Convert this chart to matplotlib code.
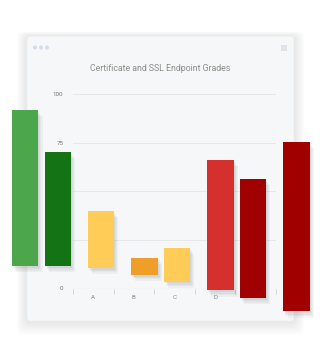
import matplotlib
matplotlib.use("Agg")
import matplotlib.pyplot as plt
import matplotlib.patheffects as pe
from matplotlib.patches import FancyBboxPatch, Circle, Rectangle

plt.rcParams['font.family'] = ['Roboto', 'DejaVu Sans']

# categories on the x axis (fifth one has no visible label)
categories = ['A', 'B', 'C', 'D', '']
y_ticks = [0, 25, 50, 75, 100]

# floating bars: position on the category axis, low and high values
bar_x = [-1.68, -0.87, 0.19, 1.26, 2.06, 3.13, 3.93, 5.01]
bar_low = [11.6, 11.6, 10.6, 7.0, 3.5, -1.0, -4.9, -11.8]
bar_high = [91.9, 70.3, 39.9, 15.9, 21.0, 66.2, 56.4, 75.4]
bar_colors = ['#4ca64c', '#147314', '#ffcd57', '#ef9f29', '#ffcd57',
              '#d5302e', '#a00000', '#a00000']

fig = plt.figure(figsize=(3.2, 3.61), dpi=100)
fig.patch.set_facecolor('white')

# soft shadow under the card
for i in range(8):
    g = (8 - i) * 0.004
    sh = FancyBboxPatch((0.0844 - g, 0.1108 - g * 1.2), 0.834 + g * 2, 0.789 + g * 1.6,
                        boxstyle="round,pad=0,rounding_size=0.02",
                        transform=fig.transFigure, facecolor='black', edgecolor='none',
                        alpha=0.012, zorder=-6)
    fig.patches.append(sh)

card = FancyBboxPatch((0.0844, 0.1108), 0.834, 0.789,
                      boxstyle="round,pad=0,rounding_size=0.012",
                      transform=fig.transFigure, facecolor='#f6f7f9',
                      edgecolor='#eef0f3', linewidth=0.5, zorder=-5)
fig.patches.append(card)

# window dots and icon
for cx in [35, 41, 47]:
    fig.patches.append(Circle((cx / 320, (361 - 47.5) / 361), 1.9 / 320,
                              transform=fig.transFigure, facecolor='#d8d9ea',
                              edgecolor='none', zorder=-4))
fig.patches.append(Rectangle((281 / 320, (361 - 51) / 361), 6 / 320, 6 / 361,
                             transform=fig.transFigure, facecolor='#e2e3e8',
                             edgecolor='none', zorder=-4))

fig.text(160 / 320, (361 - 68.5) / 361, 'Certificate and SSL Endpoint Grades',
         ha='center', va='center', fontsize=6.3, color='#8c8c88')

ax = fig.add_axes([73 / 320, (361 - 288.5) / 361, 203 / 320, 194.2 / 361])
ax.set_zorder(2)
ax.patch.set_alpha(0)
ax.set_xlim(-0.5, 4.5)
ax.set_ylim(0, 100)

for v in y_ticks[1:]:
    ax.axhline(v, color='#e6e7ea', linewidth=0.7, zorder=0)
ax.axhline(0, color='#d6d7db', linewidth=0.8, zorder=0)

for spine in ax.spines.values():
    spine.set_visible(False)

ax.set_yticks(y_ticks)
ax.set_yticklabels([str(v) for v in y_ticks])
ax.tick_params(axis='y', length=0, pad=7, labelsize=4.5, labelcolor='#777777')

ax.set_xticks([i - 0.5 for i in range(len(categories) + 1)], minor=True)
ax.set_xticks(range(len(categories)))
ax.set_xticklabels(categories)
ax.tick_params(axis='x', which='major', length=0, pad=5, labelsize=4.5, labelcolor='#888888')
ax.tick_params(axis='x', which='minor', length=3.5, width=0.7, color='#d6d7db')

heights = [h - l for h, l in zip(bar_high, bar_low)]
bars = ax.bar(bar_x, heights, bottom=bar_low, width=0.655, color=bar_colors,
              edgecolor='none', zorder=3)
shadow = [pe.SimplePatchShadow(offset=(o, -o * 1.5), shadow_rgbFace='#000000', alpha=0.035)
          for o in (3.0, 2.2, 1.5, 0.8)]
for b in bars:
    b.set_clip_on(False)
    b.set_path_effects(shadow + [pe.Normal()])

fig.savefig('out.png', dpi=100, facecolor='white')
